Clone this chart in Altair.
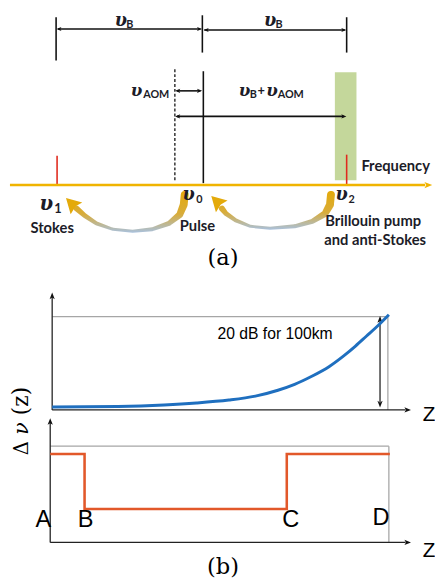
import altair as alt
import pandas as pd

# ---------------- data (reference pixel coordinates of the schematic) ----------------
# (a) black guide rules: x, y, x2, y2
black_rules = [
    (57, 12, 57, 56), (206, 10, 206, 48), (353, 12, 353, 48),
    (59, 24, 204, 24), (208, 25, 351, 25),
    (207, 67, 207, 181),
    (180, 87, 204, 87),
    (180, 113, 350, 113),
]
dashed_rules = [(178, 65, 178, 178)]
red_rules = [(58, 153, 58, 183), (353, 152, 353, 183)]
freq_axis = [(10, 183, 433, 183)]
green_band = [(341, 68, 363, 178)]

# small black arrow heads: x, y, angle
small_heads = [(60, 24, 270), (203, 24, 90), (210, 25, 270), (350, 25, 90),
               (181, 87, 270), (203, 87, 90), (181, 113, 270), (350, 113, 90)]
freq_head = [(436, 183, 90)]

# curved transfer arrows: x, y, width
curve1 = [(188, 193, 8), (187, 203, 8), (183, 213, 7), (172, 222, 5), (155, 228, 4),
          (135, 230, 3), (115, 228, 3), (98, 222, 4), (86, 214, 5), (78, 207, 6)]
curve2 = [(337, 193, 8), (336, 203, 8), (331, 212, 7), (318, 220, 5), (300, 225, 4),
          (275, 227, 3), (255, 225, 3), (240, 219, 4), (230, 212, 5), (226, 207, 6)]
curve_heads = [(73, 202, 315), (221, 200, 315)]

# (b) gray frames
gray_rules = [(53, 317, 395, 317), (395, 317, 395, 412),
              (51, 449, 396, 449), (396, 449, 396, 547)]
axis_rules = [(53, 412, 53, 297), (53, 412, 413, 412),
              (51, 547, 51, 425), (51, 547, 413, 547),
              (387, 322, 387, 404)]
axis_heads = [(53, 296, 0), (415, 412, 90), (51, 424, 0), (415, 547, 90),
              (387, 320, 0), (387, 406, 180)]

# (b) loss curve (z, level)
loss_x = [53, 120, 167, 200, 233, 260, 283, 300, 317, 335, 350, 362, 373, 385, 396]
loss_y = [409, 408.5, 407, 405, 402, 398, 392, 386, 378, 368, 357, 347, 337, 326, 315]

# (b) Brillouin shift profile A-B-C-D
step_x = [51, 86, 86, 292, 292, 397]
step_y = [457, 457, 513, 513, 457, 457]

# texts
bold_labels = [("Frequency", 368, 164, 15, "left"), ("Stokes", 53, 227, 15, "center"),
               ("Pulse", 201, 225, 15, "center"), ("Brillouin pump", 380, 220, 15, "center"),
               ("and anti-Stokes", 382, 239, 15, "center")]
greek_parts = [("υ", 123, 16, 18), ("υ", 275, 16, 18),
               ("υ", 139, 87, 17), ("υ", 249, 87, 17), ("υ", 277, 87, 17),
               ("υ", 47, 202, 20), ("υ", 192, 193, 18), ("υ", 348, 193, 18)]
sub_parts = [("B", 132, 20, 11), ("B", 284, 20, 11),
             ("AOM", 159, 91, 11), ("B", 258, 91, 11), ("+", 266, 87, 13), ("AOM", 296, 91, 11),
             ("1", 59, 207, 13), ("0", 203, 198, 11), ("2", 358, 198, 11)]
serif_labels = [("(a)", 227, 257, 23), ("(b)", 227, 572, 23)]
rot_labels = [("Δ", 22, 451, 20), ("(z)", 21, 403, 22)]
rot_italic = [("ν", 22, 431, 21)]
sans_labels = [("20 dB for 100km", 280, 335, 16), ("A", 44, 524, 24), ("B", 87, 524, 24),
               ("C", 296, 524, 24), ("D", 388, 522, 24), ("Z", 437, 417, 21), ("Z", 437, 556, 21)]

# ---------------- chart ----------------
XS = alt.Scale(domain=[8, 443])
YS = alt.Scale(domain=[586, 8])


def X(f="x"):
    return alt.X(f"{f}:Q", scale=XS, axis=None)


def Y(f="y"):
    return alt.Y(f"{f}:Q", scale=YS, axis=None)


def rules_df(rows):
    return pd.DataFrame(rows, columns=["x", "y", "x2", "y2"])


def rule_layer(rows, color, width, dash=None):
    kw = dict(color=color, strokeWidth=width)
    if dash:
        kw["strokeDash"] = dash
    return alt.Chart(rules_df(rows)).mark_rule(**kw).encode(
        x=X(), y=Y(), x2="x2:Q", y2="y2:Q")


HEAD = "M0,-1L0.75,0.9L0,0.45L-0.75,0.9Z"
TRI = "M0,-1L1,0.8L0.1,0.55L-1,0.8Z"


def head_layer(rows, color, size, shape=HEAD):
    df = pd.DataFrame(rows, columns=["x", "y", "a"])
    return alt.Chart(df).mark_point(shape=shape, filled=True, color=color, size=size,
                                    opacity=1, strokeWidth=0).encode(
        x=X(), y=Y(), angle=alt.Angle("a:Q", scale=None))


green = alt.Chart(pd.DataFrame(green_band, columns=["x", "y", "x2", "y2"])).mark_rect(
    color="#c4d79b").encode(x=X(), y=Y(), x2="x2:Q", y2="y2:Q")

rows = []
for i, c in enumerate([curve1, curve2]):
    for j, (x, y, w) in enumerate(c):
        rows.append({"id": i, "o": j, "x": x, "y": y, "w": w})
grad = alt.LinearGradient(gradient="linear", x1=0, y1=0, x2=0, y2=1,
                          stops=[alt.GradientStop(color="#e4aa0a", offset=0),
                                 alt.GradientStop(color="#d8ac3a", offset=0.55),
                                 alt.GradientStop(color="#a9c1dd", offset=1)])
curves = alt.Chart(pd.DataFrame(rows)).mark_trail(fill=grad, color=grad).encode(
    x=X(), y=Y(), size=alt.Size("w:Q", scale=None), order="o:Q", detail="id:N")

loss = alt.Chart(pd.DataFrame({"x": loss_x, "y": loss_y, "o": range(len(loss_x))})).mark_line(
    color="#1f6fbf", strokeWidth=3, interpolate="monotone").encode(x=X(), y=Y(), order="o:Q")
step = alt.Chart(pd.DataFrame({"x": step_x, "y": step_y, "o": range(len(step_x))})).mark_line(
    color="#e2582a", strokeWidth=2.6).encode(x=X(), y=Y(), order="o:Q")


def text_layer(rows, font, weight="normal", style="normal", color="#000", angle=0, align="center"):
    df = pd.DataFrame(rows, columns=["t", "x", "y", "s"])
    return alt.Chart(df).mark_text(font=font, fontWeight=weight, fontStyle=style, color=color,
                                   angle=angle, align=align, baseline="middle").encode(
        x=X(), y=Y(), text="t:N", size=alt.Size("s:Q", scale=None))


bl_left = [r[:4] for r in bold_labels if r[4] == "left"]
bl_center = [r[:4] for r in bold_labels if r[4] == "center"]

layers = [
    green,
    rule_layer(black_rules, "#111", 1.6),
    rule_layer(dashed_rules, "#111", 1.3, [3, 2]),
    rule_layer(red_rules, "#e02a1e", 1.6),
    rule_layer(freq_axis, "#f0b400", 2.6),
    head_layer(small_heads, "#111", 30),
    head_layer(freq_head, "#f0b400", 70),
    curves,
    head_layer(curve_heads, "#e4aa0a", 280, TRI),
    rule_layer(gray_rules, "#a6a6a6", 1.3),
    rule_layer(axis_rules, "#222", 1.3),
    head_layer(axis_heads, "#111", 50),
    loss,
    step,
    text_layer(bl_left, "Lato", "bold", color="#1c1c28", align="left"),
    text_layer(bl_center, "Lato", "bold", color="#1c1c28"),
    text_layer(greek_parts, "DejaVu Serif", "bold", "italic", color="#1c1c28"),
    text_layer(sub_parts, "Lato", "bold", color="#1c1c28"),
    text_layer(serif_labels, "DejaVu Serif"),
    text_layer(rot_labels, "DejaVu Serif", angle=270),
    text_layer(rot_italic, "DejaVu Serif", style="italic", angle=270),
    text_layer(sans_labels, "Liberation Sans"),
]

chart = alt.layer(*layers).properties(
    width=435, height=578, padding=0,
    autosize=alt.AutoSizeParams(type="none"),
    background="white",
).configure_view(stroke=None)

chart.save("out.html", embed_options={"renderer": "svg", "actions": False})
